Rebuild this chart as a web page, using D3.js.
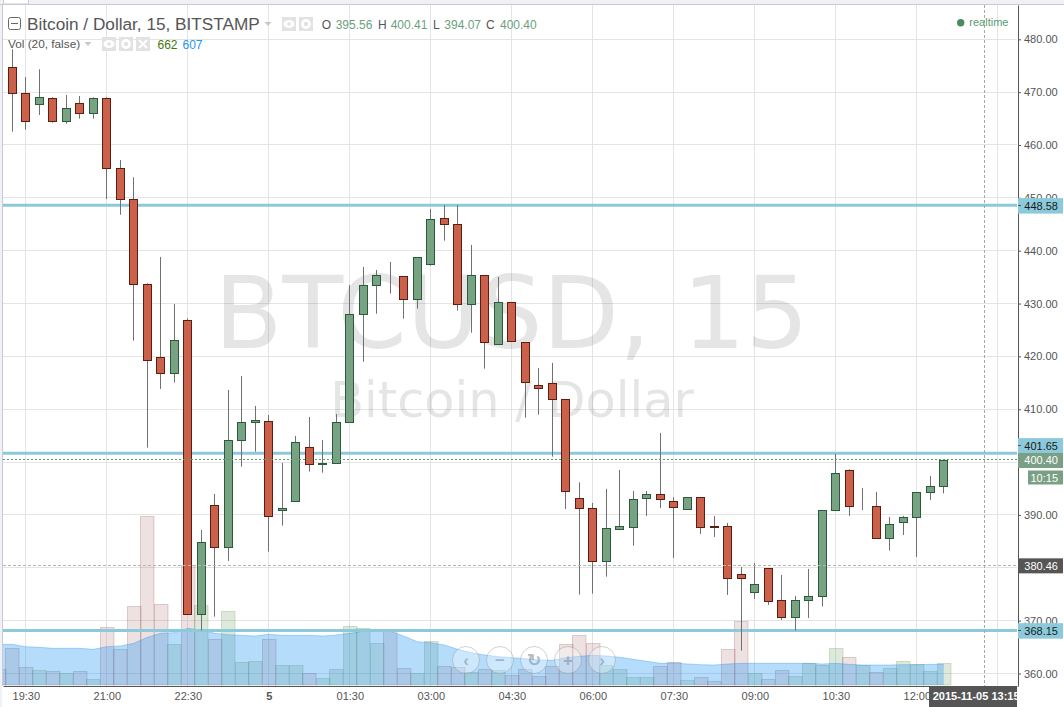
<!DOCTYPE html>
<html lang="en">
<head>
    <meta charset="UTF-8">
    <title>Bitcoin / Dollar, 15, BITSTAMP</title>
    <script src="https://d3js.org/d3.v7.min.js"></script>
    <style>
        html, body { margin: 0; padding: 0; background: #fff; overflow: hidden; }
        svg { display: block; font-family: "Liberation Sans", Arial, sans-serif; }
    </style>
</head>
<body>
    <div class="chart"></div>
    <script>
        // candles, 15 min bars, first one is 19:15
        const opens = [474.70,469.78,467.70,468.84,464.49,467.89,466.00,468.84,455.59,449.73,
            433.65,419.83,416.81,426.83,371.21,391.83,383.85,404.13,407.54,407.73,
            390.85,392.70,402.81,399.59,399.78,407.54,427.97,433.46,435.27,435.16,
            430.81,437.43,446.13,445.00,429.86,435.35,422.29,430.24,422.67,414.54,
            414.92,411.89,393.16,391.27,381.35,387.41,387.78,393.27,393.91,392.59,
            391.19,393.35,387.85,387.86,378.78,375.49,379.91,373.86,370.64,373.86,
            374.62,390.89,398.45,391.64,391.64,385.59,388.62,389.56,394.29,395.56];
        const highs = [478.11,472.87,474.32,469.03,469.46,469.27,469.03,469.03,457.16,453.89,
            433.84,438.81,429.92,427.21,387.16,393.97,413.65,416.30,410.62,408.92,
            399.84,404.95,408.54,404.19,409.11,433.51,436.92,436.35,437.87,435.16,
            438.75,447.89,448.65,448.65,441.08,435.35,435.03,430.24,422.67,417.81,
            418.76,411.89,396.18,392.27,394.92,398.51,394.54,394.54,405.51,393.35,
            393.35,393.35,389.81,388.48,380.16,380.92,379.91,378.65,374.67,379.78,
            390.89,401.54,398.64,395.11,394.35,389.62,389.81,394.29,397.38,400.41];
        const lows = [462.52,462.90,465.68,464.22,464.03,464.98,464.98,449.78,446.81,422.98,
            402.73,413.84,415.03,371.21,368.11,370.76,381.30,399.14,401.97,383.05,
            387.97,392.70,398.19,398.00,399.78,407.54,419.00,428.08,431.87,427.14,
            429.03,437.17,441.90,428.65,424.49,417.68,422.29,422.86,408.41,408.97,
            401.03,391.13,374.92,375.11,378.32,387.41,384.19,389.81,391.32,381.86,
            390.94,386.40,385.84,374.86,364.32,374.11,372.97,370.13,368.11,370.51,
            372.65,390.89,389.81,390.94,385.59,383.24,386.21,382.05,392.84,394.07];
        const closes = [469.78,464.49,469.03,464.49,466.95,466.00,468.84,455.59,449.73,433.65,
            419.27,416.81,423.05,371.21,384.83,383.85,404.13,407.54,407.91,389.71,
            391.27,403.75,399.59,399.74,407.54,427.97,433.46,435.35,435.16,430.81,
            438.75,445.94,445.00,429.86,435.35,422.67,430.24,422.86,415.10,414.08,
            411.89,394.48,391.27,381.35,387.48,387.86,392.97,393.91,393.08,391.57,
            393.35,387.78,387.78,378.14,378.14,376.89,373.78,370.64,373.86,374.62,
            390.89,397.89,391.64,391.76,385.59,388.24,389.56,394.29,395.43,400.40];

        // volume and its 20 bar average, these start one bar earlier (index -1)
        const volumes = [488,1119,540,448,418,357,418,174,1760,1068,2400,
            5155,2461,1241,3639,2431,1403,2248,692,723,1403,
            601,601,357,204,479,1790,1729,1272,1668,509,
            345,1333,570,540,387,479,448,296,479,265,
            570,1241,1516,1272,601,479,235,235,570,692,
            143,244,122,1068,1952,357,174,448,265,662,
            610,1119,845,601,387,509,723,631,418,662];
        const volumeAvg = [1240,1240,1169,1149,1118,1118,1118,1088,1169,1190,1271,
            1454,1576,1596,1728,1678,1576,1535,1515,1494,1545,
            1515,1515,1515,1494,1525,1576,1637,1647,1637,1494,
            1322,1291,1220,1088,986,915,864,834,803,763,
            752,834,874,905,885,844,783,722,661,671,
            641,620,610,640,661,661,661,661,661,661,
            640,661,630,610,610,610,620,620,630,630];

        const priceTicks = [360,370,380,390,400,410,420,430,440,450,460,470,480];
        const timeTicks = [1,7,13,19,25,31,37,43,49,55,61,67];
        const timeLabels = ['19:30','21:00','22:30','5','01:30','03:00','04:30','06:00','07:30','09:00','10:30','12:00'];
        const gridTimes = timeTicks.concat([73]);

        const levels = [448.58,401.65,368.15];
        const levelNudge = [0,-8,0];
        const lastPrice = 400.40, crossPrice = 380.46, crossIndex = 72;

        const width = 1064, height = 707;
        const plotLeft = 3, plotRight = 1017, plotTop = 5, plotBottom = 686;

        const svg = d3.select('.chart').append('svg')
            .attr('width', width).attr('height', height);

        const x = d3.scaleLinear().domain([-0.689, 74.422]).range([plotLeft, plotRight]);
        const y = d3.scaleLinear().domain([357.63, 486.49]).range([plotBottom, plotTop]);
        const v = d3.scaleLinear().domain([0, 5155]).range([plotBottom - 1, 516]);
        const sharp = d => Math.floor(d) + 0.5;

        svg.append('defs').append('clipPath').attr('id', 'plot')
            .append('rect').attr('x', plotLeft).attr('y', plotTop)
            .attr('width', plotRight - plotLeft).attr('height', plotBottom - plotTop);
        svg.select('defs').append('clipPath').attr('id', 'datebox')
            .append('rect').attr('x', 929).attr('y', 687).attr('width', 88).attr('height', 20);

        // frame of the page round the plot
        svg.append('rect').attr('width', width).attr('height', 4).attr('fill', '#eff1f6');
        svg.append('rect').attr('width', 2).attr('height', height).attr('fill', '#eff1f6');
        svg.append('rect').attr('x', 3.5).attr('y', -1).attr('width', 25).attr('height', 5)
            .attr('fill', '#fff').attr('stroke', '#c8cbd3');
        svg.append('line').attr('x1', 0).attr('x2', width).attr('y1', 4.5).attr('y2', 4.5).attr('stroke', '#c8cad0');
        svg.append('line').attr('x1', 2.5).attr('x2', 2.5).attr('y1', 4).attr('y2', plotBottom).attr('stroke', '#c8cbd5');

        // grid
        const grid = svg.append('g').attr('stroke', '#e4e4e4');
        grid.selectAll('.h').data(priceTicks).join('line').attr('class', 'h')
            .attr('x1', plotLeft).attr('x2', plotRight)
            .attr('y1', d => sharp(y(d))).attr('y2', d => sharp(y(d)));
        grid.selectAll('.v').data(gridTimes).join('line').attr('class', 'v')
            .attr('x1', d => sharp(x(d))).attr('x2', d => sharp(x(d)))
            .attr('y1', plotTop).attr('y2', plotBottom);

        // watermark
        const mark = svg.append('g')
            .attr('font-family', '"DejaVu Sans", sans-serif')
            .attr('text-anchor', 'middle').attr('fill', 'rgba(80,80,80,0.15)');
        mark.append('text').attr('x', 511.5).attr('y', 348).attr('font-size', 99.4).text('BTCUSD, 15');
        mark.append('text').attr('x', 512).attr('y', 417).attr('font-size', 49.4).text('Bitcoin / Dollar');

        const plot = svg.append('g').attr('clip-path', 'url(#plot)');

        // volume is coloured by the candle of the same bar
        const isUp = i => i >= 0 ? closes[i] >= opens[i] : false;
        plot.append('g').selectAll('rect').data(volumes).join('rect')
            .attr('x', (d, i) => sharp(x(i - 1) - 6.75))
            .attr('width', 13.5)
            .attr('y', d => sharp(v(d)))
            .attr('height', d => v(0) - sharp(v(d)))
            .attr('fill', (d, i) => isUp(i - 1) ? 'rgba(105,150,85,0.21)' : 'rgba(170,105,105,0.2)')
            .attr('stroke', (d, i) => isUp(i - 1) ? 'rgba(105,150,85,0.28)' : 'rgba(150,90,90,0.28)');

        const avgArea = d3.area().x((d, i) => x(i - 1)).y0(v(0)).y1(d => v(d));
        const avgLine = d3.line().x((d, i) => x(i - 1)).y(d => v(d));
        plot.append('path').attr('d', avgArea(volumeAvg)).attr('fill', 'rgba(33,150,243,0.33)');
        plot.append('path').attr('d', avgLine(volumeAvg)).attr('fill', 'none')
            .attr('stroke', 'rgba(33,150,243,0.35)');

        // level lines
        plot.selectAll('.level').data(levels).join('line').attr('class', 'level')
            .attr('x1', plotLeft).attr('x2', plotRight)
            .attr('y1', d => y(d)).attr('y2', d => y(d))
            .attr('stroke', '#8ccadb').attr('stroke-width', 3);

        // candles
        const candles = plot.append('g').selectAll('g').data(opens).join('g');
        candles.append('line')
            .attr('x1', (d, i) => sharp(x(i))).attr('x2', (d, i) => sharp(x(i)))
            .attr('y1', (d, i) => y(highs[i])).attr('y2', (d, i) => y(lows[i]))
            .attr('stroke', '#707070');
        candles.append('rect')
            .attr('x', (d, i) => sharp(x(i)) - 4)
            .attr('width', 8)
            .attr('y', (d, i) => Math.round(y(Math.max(d, closes[i]))) + 0.5)
            .attr('height', (d, i) => Math.round(y(Math.min(d, closes[i]))) - Math.round(y(Math.max(d, closes[i]))))
            .attr('fill', (d, i) => closes[i] >= d ? '#78a383' : '#cb614b')
            .attr('stroke', (d, i) => closes[i] >= d ? '#2c5a3d' : '#5c1d12');

        // last price and crosshair
        plot.append('line').attr('x1', plotLeft).attr('x2', plotRight)
            .attr('y1', sharp(y(lastPrice))).attr('y2', sharp(y(lastPrice)))
            .attr('stroke', '#5f9b78').attr('stroke-dasharray', '2,2');
        plot.append('line').attr('x1', plotLeft).attr('x2', plotRight)
            .attr('y1', sharp(y(crossPrice))).attr('y2', sharp(y(crossPrice)))
            .attr('stroke', '#b4b4b4').attr('stroke-dasharray', '3,2');
        plot.append('line').attr('x1', sharp(x(crossIndex))).attr('x2', sharp(x(crossIndex)))
            .attr('y1', plotTop).attr('y2', plotBottom)
            .attr('stroke', '#a8a8a8').attr('stroke-dasharray', '3,2');

        // axes
        const yAxis = svg.append('g').attr('transform', `translate(${plotRight + 1},0)`)
            .call(d3.axisRight(y).tickValues(priceTicks).tickFormat(d3.format('.2f')).tickSize(3).tickPadding(3).tickSizeOuter(0));
        const xAxis = svg.append('g').attr('transform', `translate(0,${plotBottom})`)
            .call(d3.axisBottom(x).tickValues(timeTicks).tickFormat((d, i) => timeLabels[i]).tickSize(0).tickPadding(6));
        [yAxis, xAxis].forEach(a => {
            a.selectAll('.domain, line').attr('stroke', '#555');
            a.selectAll('text').attr('fill', '#555').attr('font-size', 11).attr('font-family', '"Liberation Sans", Arial, sans-serif');
        });
        xAxis.selectAll('text').filter(d => d === 19).attr('font-weight', 'bold');

        // price tags on the right
        function tag(py, h, bg, txt, col, xl) {
            const g = svg.append('g');
            g.append('rect').attr('x', xl).attr('y', py - h / 2).attr('width', 1063 - xl).attr('height', h).attr('fill', bg);
            g.append('text').attr('x', 1058).attr('y', py + 4).attr('text-anchor', 'end')
                .attr('font-size', 11).attr('fill', col).text(txt);
        }
        levels.forEach((d, i) => {
            tag(y(d) + levelNudge[i] + 0.5, 15.5, '#8ccadb', d3.format('.2f')(d), '#1a1a1a', plotRight + 1);
            svg.append('line').attr('x1', plotRight + 1).attr('x2', plotRight + 4)
                .attr('y1', sharp(y(d) + levelNudge[i])).attr('y2', sharp(y(d) + levelNudge[i])).attr('stroke', '#555');
        });
        tag(y(lastPrice) + 0.5, 15, '#7a9f85', d3.format('.2f')(lastPrice), '#fff', plotRight + 1);
        tag(477.5, 14, '#7a9f85', '10:15', '#fff', 1028);
        tag(y(crossPrice) + 0.5, 15, '#555', d3.format('.2f')(crossPrice), '#fff', plotRight + 1);

        // date tag, cut off by the axis like in the terminal
        svg.append('rect').attr('x', 929).attr('y', 687).attr('width', 88).attr('height', 20).attr('fill', '#555');
        svg.append('text').attr('clip-path', 'url(#datebox)').attr('x', 932.7).attr('y', 700)
            .attr('font-size', 11).attr('font-weight', 'bold').attr('fill', '#fff').text('2015-11-05 13:15');

        // zoom buttons
        const buttons = svg.append('g').selectAll('g')
            .data(['\u2039', '\u2212', '\u21bb', '+', '\u203a']).join('g')
            .attr('transform', (d, i) => `translate(${466 + i * 34},660)`);
        buttons.append('circle').attr('r', 13.5)
            .attr('fill', 'rgba(255,255,255,0.32)').attr('stroke', 'rgba(140,140,140,0.4)');
        buttons.append('text').attr('y', 6).attr('text-anchor', 'middle')
            .attr('font-size', 17).attr('font-weight', 'bold').attr('fill', 'rgba(120,135,150,0.55)').text(d => d);

        // legend rows
        const legend = svg.append('g');
        function caret(cx, cy) {
            legend.append('path').attr('d', `M${cx - 3.5},${cy - 2}h7l-3.5,4z`).attr('fill', '#c8c8c8');
        }
        function iconBox(bx, by, kind) {
            legend.append('rect').attr('x', bx).attr('y', by).attr('width', 14).attr('height', 14).attr('fill', '#e2e2e2');
            const cx = bx + 7, cy = by + 7;
            if (kind === 'x') {
                legend.append('path').attr('d', `M${cx - 4},${cy - 4}L${cx + 4},${cy + 4}M${cx + 4},${cy - 4}L${cx - 4},${cy + 4}`)
                    .attr('stroke', '#fff').attr('stroke-width', 2);
            } else if (kind === 'eye') {
                legend.append('ellipse').attr('cx', cx).attr('cy', cy).attr('rx', 5.5).attr('ry', 4).attr('fill', '#fff');
                legend.append('circle').attr('cx', cx).attr('cy', cy).attr('r', 1.8).attr('fill', '#e2e2e2');
            } else {
                legend.append('circle').attr('cx', cx).attr('cy', cy).attr('r', 3.6).attr('fill', 'none')
                    .attr('stroke', '#fff').attr('stroke-width', 2.6);
            }
        }
        legend.append('rect').attr('x', 8.5).attr('y', 17.5).attr('width', 12).attr('height', 12).attr('rx', 2)
            .attr('fill', 'none').attr('stroke', '#666');
        legend.append('line').attr('x1', 11).attr('x2', 18).attr('y1', 23.5).attr('y2', 23.5).attr('stroke', '#666');
        legend.append('text').attr('x', 27).attr('y', 30).attr('font-size', 17.2).attr('fill', '#555')
            .text('Bitcoin / Dollar, 15, BITSTAMP');
        caret(268, 24);
        iconBox(282, 17, 'eye');
        iconBox(299, 17, 'gear');
        const ohlc = [['O', 321.7, '#555'], ['395.56', 335.7, '#6d9f7e'], ['H', 378, '#555'], ['400.41', 390.7, '#6d9f7e'],
            ['L', 433, '#555'], ['394.07', 444.3, '#6d9f7e'], ['C', 486, '#555'], ['400.40', 500, '#6d9f7e']];
        ohlc.forEach(d => {
            legend.append('text').attr('x', d[1]).attr('y', 29).attr('font-size', 12).attr('fill', d[2]).text(d[0]);
        });
        legend.append('text').attr('x', 8).attr('y', 48).attr('font-size', 11.8).attr('fill', '#555').text('Vol (20, false)');
        caret(88, 44);
        iconBox(102, 37, 'eye');
        iconBox(119, 37, 'gear');
        iconBox(136, 37, 'x');
        legend.append('text').attr('x', 157.5).attr('y', 49).attr('font-size', 12).attr('fill', '#3c7a0c').text('662');
        legend.append('text').attr('x', 182.5).attr('y', 49).attr('font-size', 12).attr('fill', '#2196f3').text('607');

        legend.append('circle').attr('cx', 960.7).attr('cy', 22.7).attr('r', 3.7).attr('fill', '#4a8a5f');
        legend.append('text').attr('x', 969.3).attr('y', 26).attr('font-size', 11).attr('fill', '#5a9a72').text('realtime');
    </script>
</body>
</html>
